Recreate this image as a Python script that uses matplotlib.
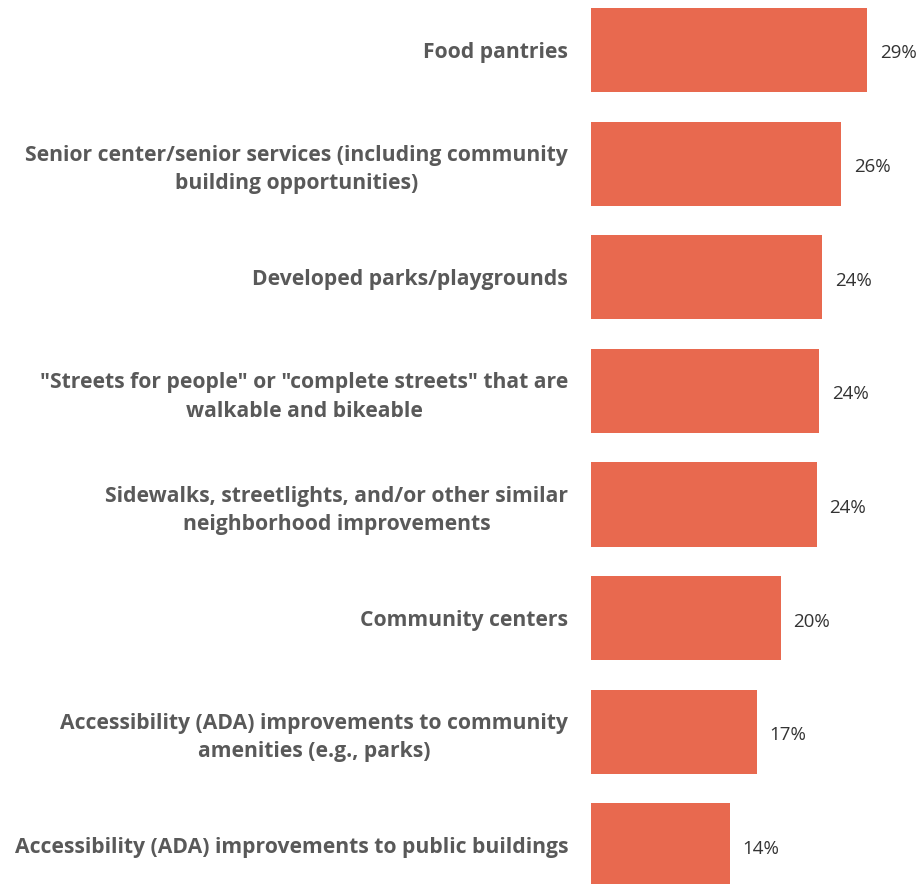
import matplotlib.pyplot as plt

categories = [
    'Food pantries',
    'Senior center/senior services (including community\nbuilding opportunities)',
    'Developed parks/playgrounds',
    '"Streets for people" or "complete streets" that are\nwalkable and bikeable',
    'Sidewalks, streetlights, and/or other similar\nneighborhood improvements',
    'Community centers',
    'Accessibility (ADA) improvements to community\namenities (e.g., parks)',
    'Accessibility (ADA) improvements to public buildings',
]
values = [28.8, 26.1, 24.1, 23.8, 23.55, 19.8, 17.3, 14.45]

bar_color = '#E8694F'
label_color = '#595959'
value_color = '#333333'

fig = plt.figure(figsize=(9.23, 8.84), dpi=100)
ax = fig.add_axes([591 / 923, 0, 1 - 591 / 923, 1])

pos = list(range(len(categories)))
ax.barh(pos, values, height=0.74, color=bar_color)

for y, v in zip(pos, values):
    ax.text(v + 1.3, y + 0.03, f'{v:.0f}%', va='center', ha='left',
            fontsize=13.5, color=value_color, family='Open Sans')

ax.set_xlim(0, 34.6)
ax.set_ylim(7.34, -0.44)
ax.set_yticks(pos, categories)
ax.tick_params(axis='y', length=0, pad=16.5)
ax.set_xticks([])
for lbl in ax.get_yticklabels():
    lbl.set_multialignment('center')
    lbl.set_fontsize(15.2)
    lbl.set_fontweight('bold')
    lbl.set_family('Open Sans')
    lbl.set_color(label_color)
    lbl.set_linespacing(1.45)

for s in ax.spines.values():
    s.set_visible(False)

fig.savefig('out.png', dpi=100)
